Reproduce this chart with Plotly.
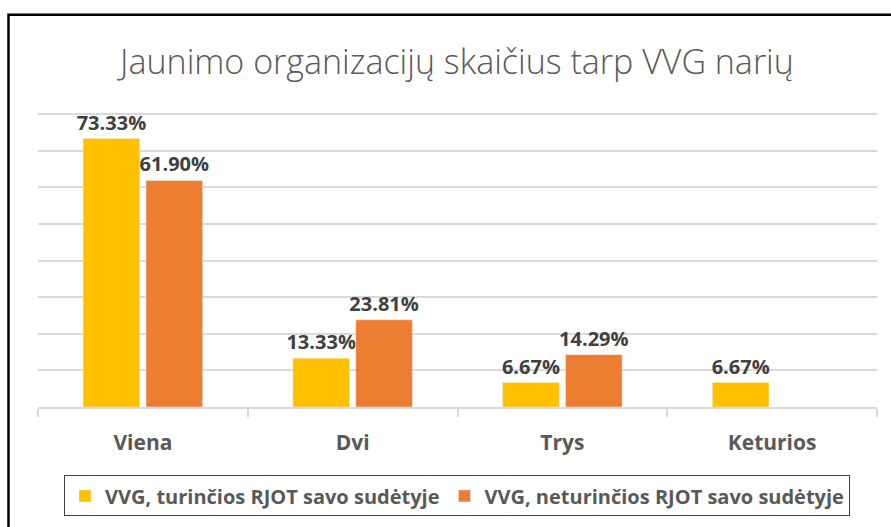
import plotly.graph_objects as go

categories = ["Viena", "Dvi", "Trys", "Keturios"]
series1_name = "VVG, turinčios RJOT savo sudėtyje"
series2_name = "VVG, neturinčios RJOT savo sudėtyje"
series1_values = [0.7333, 0.1333, 0.0667, 0.0667]
series2_values = [0.6190, 0.2381, 0.1429, None]
title_text = "Jaunimo organizacijų skaičius tarp VVG narių"

W, H = 891, 527
ymax = 0.806
# 0 at y=407 px, 0.8 at y=114 px
scale = (407 - 114) / 0.8
ml, mr = 38, 14
mb = H - 407
mt = 407 - ymax * scale
pw, ph = W - ml - mr, H - mt - mb

def labels(vals):
    return ["" if v is None else f"{v*100:.2f}%" for v in vals]

label_font = dict(family="Open Sans", size=20, color="#404040", weight="bold")

fig = go.Figure()
fig.add_trace(go.Bar(
    x=categories, y=series1_values, name=series1_name,
    marker=dict(color="#FFC000"),
    text=labels(series1_values), textposition="outside", constraintext="none",
    textfont=label_font, cliponaxis=False,
))
fig.add_trace(go.Bar(
    x=categories, y=series2_values, name=series2_name,
    marker=dict(color="#ED7D31"),
    text=labels(series2_values), textposition="outside", constraintext="none",
    textfont=label_font, cliponaxis=False,
))

# outer border (extends beyond right and bottom edge)
fig.add_shape(type="rect", xref="paper", yref="paper",
              x0=(8.5 - ml) / pw, x1=(W + 20 - ml) / pw,
              y0=-(H + 20 - (H - mb)) / ph, y1=(H - mb - 14.5) / ph,
              line=dict(color="#000000", width=2.5), fillcolor="rgba(0,0,0,0)", layer="below")

fig.update_layout(
    width=W, height=H,
    margin=dict(l=ml, r=mr, t=mt, b=mb, autoexpand=False),
    paper_bgcolor="white", plot_bgcolor="white",
    barmode="group", bargap=0.40, bargroupgap=0.1,
    title=dict(text=title_text, x=457 / W, xanchor="center", y=1 - 62 / H, yanchor="middle",
               font=dict(family="Open Sans", size=34, color="#595959", weight=300)),
    showlegend=True,
    legend=dict(orientation="h", x=(457 - ml) / pw, xanchor="center",
                y=-(496 - (H - mb)) / ph, yanchor="middle",
                bordercolor="#404040", borderwidth=1,
                font=dict(family="Open Sans", size=20, color="#595959", weight="bold"),
                itemwidth=30, traceorder="normal"),
    xaxis=dict(showline=True, linecolor="#d9d9d9", linewidth=1.5,
               ticks="outside", tickson="boundaries", ticklen=8, tickcolor="#d9d9d9", tickwidth=1.5,
               ticklabelstandoff=16,
               tickfont=dict(family="Open Sans", size=21, color="#595959", weight="bold"),
               showgrid=False),
    yaxis=dict(range=[0, ymax], tick0=0, dtick=0.1, showticklabels=False, showgrid=True,
               gridcolor="#d9d9d9", gridwidth=1.5, zeroline=False, ticks=""),
)

fig.write_html("out.html", config={"displayModeBar": False},
               post_script="document.body.style.margin='0';")
